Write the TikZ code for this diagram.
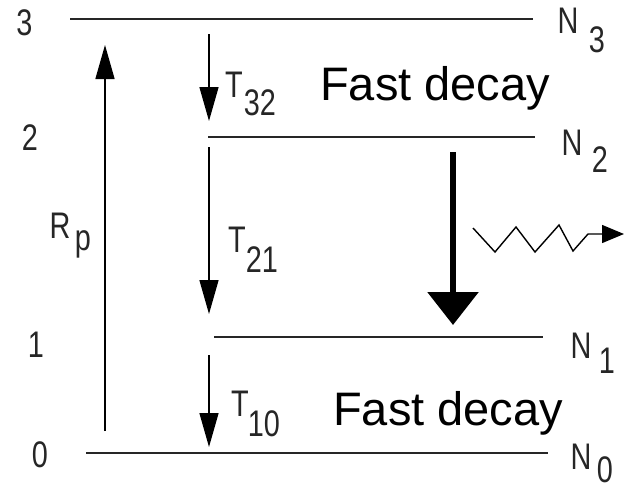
\documentclass[tikz,border=0pt]{standalone}
\usepackage{fontspec}
\setmainfont{Liberation Sans}
\newfontfamily\narrowfont[FakeStretch=0.78]{Liberation Sans}
\usetikzlibrary{arrows.meta}
\tikzset{
  level/.style={line width=1.4pt, black!85},
  lbl/.style={inner sep=0pt, font=\fontsize{37}{40}\narrowfont, black!85},
  big/.style={inner sep=0pt, anchor=base west, font=\fontsize{47}{50}\selectfont},
  thin arrow/.style={line width=1.4pt, -{Triangle[length=34pt,width=19pt]}},
  thick arrow/.style={line width=6pt, -{Triangle[length=33pt,width=50pt]}},
}
\begin{document}
\begin{tikzpicture}[x=1pt,y=-1pt]
\useasboundingbox (0,0) rectangle (624,485);
% level lines
\coordinate (l3a) at (70,19);  \coordinate (l3b) at (533,19);
\coordinate (l2a) at (208,137); \coordinate (l2b) at (535,137);
\coordinate (l1a) at (214,337); \coordinate (l1b) at (543,337);
\coordinate (l0a) at (86,453);  \coordinate (l0b) at (548,453);
\draw[level] (l3a) -- (l3b);
\draw[level] (l2a) -- (l2b);
\draw[level] (l1a) -- (l1b);
\draw[level] (l0a) -- (l0b);
% level numbers
\node[lbl] (n3) at (24.5,23) {3};
\node[lbl] (n2) at (30,138) {2};
\node[lbl] (n1) at (36,345) {1};
\node[lbl] (n0) at (40,455) {0};
% populations
\node[lbl] (N3) at (568,21) {N};  \node[lbl] (N3s) at (597,40) {3};
\node[lbl] (N2) at (572,143) {N}; \node[lbl] (N2s) at (600,160) {2};
\node[lbl] (N1) at (581,346) {N}; \node[lbl] (N1s) at (607,361) {1};
\node[lbl] (N0) at (581,457) {N}; \node[lbl] (N0s) at (605,470) {0};
% pump
\coordinate (rpb) at (105,431); \coordinate (rpt) at (105,45);
\draw[thin arrow] (rpb) -- (rpt);
\node[lbl] (R) at (60,226) {R}; \node[lbl] (Rs) at (83,244) {p};
% decays
\coordinate (t32a) at (209,34);  \coordinate (t32b) at (209,121);
\coordinate (t21a) at (209,147); \coordinate (t21b) at (209,314);
\coordinate (t10a) at (209,355); \coordinate (t10b) at (209,447);
\draw[thin arrow] (t32a) -- (t32b);
\draw[thin arrow] (t21a) -- (t21b);
\draw[thin arrow] (t10a) -- (t10b);
\node[lbl] (T32) at (234,85) {T};  \node[lbl] (T32s) at (260,103) {32};
\node[lbl] (T21) at (237,240) {T}; \node[lbl] (T21s) at (262,260) {21};
\node[lbl] (T10) at (240,404) {T}; \node[lbl] (T10s) at (264,424) {10};
% fast decay labels
\node[big] (fd1) at (320,100) {Fast decay};
\node[big] (fd2) at (333,425) {Fast decay};
% laser transition
\coordinate (la) at (453,152); \coordinate (lb) at (453,325);
\draw[thick arrow] (la) -- (lb);
% photon
\coordinate (ph0) at (473,228);
\coordinate (ph1) at (624,234);
\draw[line width=1.4pt, line join=miter, -{Triangle[length=22pt,width=18pt]}]
  (ph0) -- (495,252) -- (516,227) -- (535,252) -- (559,225) -- (573,251) -- (588,234) -- (600,234) -- (ph1);
\end{tikzpicture}
\end{document}
